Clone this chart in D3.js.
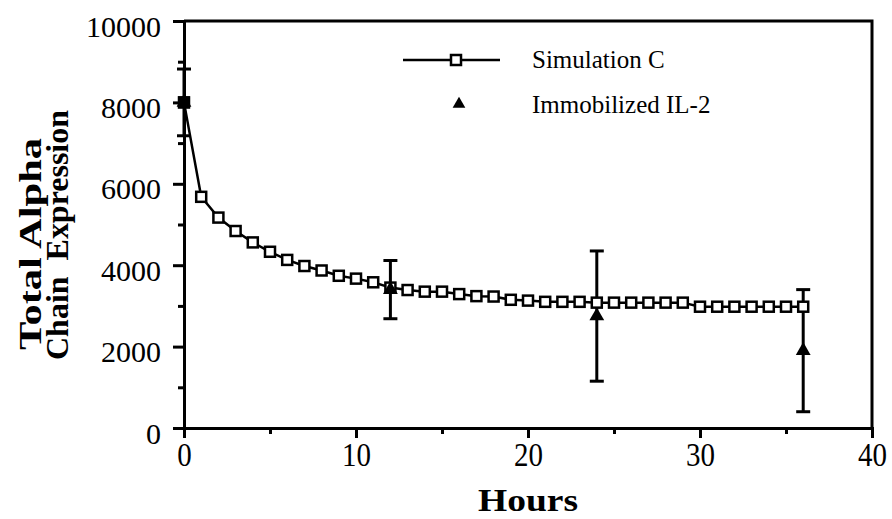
<!DOCTYPE html>
<html>
<head>
<meta charset="utf-8">
<script src="https://cdn.jsdelivr.net/npm/d3@7"></script>
<style>
  html, body { margin: 0; padding: 0; background: #fff; }
  svg { display: block; }
  text { font-family: "Liberation Serif", "Times New Roman", serif; fill: #000; }
</style>
</head>
<body>
<div id="chart"></div>
<script>
// ---- data ----
const simHours = [0,1,2,3,4,5,6,7,8,9,10,11,12,13,14,15,16,17,18,19,20,21,22,23,24,25,26,27,28,29,30,31,32,33,34,35,36];
const simValues = [8000,5680,5170,4840,4560,4330,4130,3980,3870,3740,3670,3580,3450,3390,3350,3350,3290,3240,3230,3150,3130,3100,3100,3100,3080,3080,3080,3080,3080,3080,2980,2980,2980,2980,2980,2980,2980];
const immHours = [0, 12, 24, 36];
const immValues = [8000, 3400, 2750, 1900];
const immErrors = [820, 715, 1600, 1500];
const xTicks = [0, 10, 20, 30, 40];
const xMinorTicks = [5, 15, 25, 35];
const yTicks = [0, 2000, 4000, 6000, 8000, 10000];
const yMinorTicks = [1000, 3000, 5000, 7000, 9000];
const seriesNames = ["Simulation C", "Immobilized IL-2"];
const xTitle = "Hours";
const yTitleLines = ["Total Alpha", "Chain  Expression"];

// ---- layout ----
const W = 892, H = 519;
const m = { left: 184, right: 20, top: 21, bottom: 91 };
const x = d3.scaleLinear().domain([0, 40]).range([m.left, W - m.right]);
const y = d3.scaleLinear().domain([0, 10000]).range([H - m.bottom, m.top]);

const svg = d3.select("#chart").append("svg").attr("width", W).attr("height", H);
const lw = 3;
const serif = '"Liberation Serif", "Times New Roman", serif';

// frame (top + right)
svg.append("path")
  .attr("d", `M${x(0)},${y(10000)}H${x(40)}V${y(0)}`)
  .attr("fill", "none").attr("stroke", "#000").attr("stroke-width", lw);

// y axis
const yAxis = svg.append("g").attr("transform", `translate(${x(0)},0)`)
  .call(d3.axisLeft(y).tickValues(yTicks).tickSize(11).tickPadding(12).tickFormat(d3.format("d")));
yAxis.attr("font-family", null);
yAxis.select(".domain").attr("stroke-width", lw);
yAxis.selectAll(".tick line").attr("stroke-width", lw);
yAxis.selectAll(".tick text").attr("font-size", 30).attr("dy", "0.5em")
  .style("font-family", serif);
const yMinor = svg.append("g").attr("transform", `translate(${x(0)},0)`)
  .call(d3.axisLeft(y).tickValues(yMinorTicks).tickSize(6).tickFormat(""));
yMinor.select(".domain").remove();
yMinor.selectAll(".tick line").attr("stroke-width", lw);

// x axis
const xAxis = svg.append("g").attr("transform", `translate(0,${y(0)})`)
  .call(d3.axisBottom(x).tickValues(xTicks).tickSize(10).tickPadding(0).tickFormat(d3.format("d")));
xAxis.attr("font-family", null);
xAxis.select(".domain").attr("stroke-width", lw);
xAxis.selectAll(".tick text").attr("font-size", 29).attr("dy", 0).attr("y", 0)
  .attr("transform", "translate(0,38) scale(1,1.15)")
  .style("font-family", serif);
xAxis.selectAll(".tick line").attr("stroke-width", lw);
const xMinor = svg.append("g").attr("transform", `translate(0,${y(0)})`)
  .call(d3.axisBottom(x).tickValues(xMinorTicks).tickSize(6).tickFormat(""));
xMinor.select(".domain").remove();
xMinor.selectAll(".tick line").attr("stroke-width", lw);

// axis titles
svg.append("text")
  .attr("x", (x(0) + x(40)) / 2).attr("y", 511)
  .attr("text-anchor", "middle").attr("font-size", 32).attr("font-weight", "bold")
  .attr("textLength", 100).attr("lengthAdjust", "spacingAndGlyphs")
  .text(xTitle);
const yTitleX = [41, 68];
const yTitleCy = [244, 235];
const yTitleLen = [212, 250];
yTitleLines.forEach((t, i) => {
  svg.append("text")
    .attr("transform", `translate(${yTitleX[i]},${yTitleCy[i]}) rotate(-90)`)
    .attr("text-anchor", "middle").attr("font-size", 31).attr("font-weight", "bold")
    .attr("textLength", yTitleLen[i]).attr("lengthAdjust", "spacingAndGlyphs")
    .style("white-space", "pre")
    .text(t);
});

// simulation line
const sim = simHours.map((h, i) => ({ h, v: simValues[i] }));
svg.append("path").datum(sim)
  .attr("d", d3.line().x(d => x(d.h)).y(d => y(d.v)))
  .attr("fill", "none").attr("stroke", "#000").attr("stroke-width", 2.5);

// error bars
const imm = immHours.map((h, i) => ({ h, v: immValues[i], e: immErrors[i] }));
const eb = svg.append("g");
imm.forEach(d => {
  eb.append("line").attr("x1", x(d.h)).attr("x2", x(d.h))
    .attr("y1", y(d.v - d.e)).attr("y2", y(d.v + d.e))
    .attr("stroke", "#000").attr("stroke-width", 3);
  [d.v - d.e, d.v + d.e].forEach(v => {
    eb.append("line").attr("x1", x(d.h) - 7).attr("x2", x(d.h) + 7)
      .attr("y1", y(v)).attr("y2", y(v))
      .attr("stroke", "#000").attr("stroke-width", 3);
  });
});

// squares
const sq = 10;
svg.append("g").selectAll("rect").data(sim).join("rect")
  .attr("x", d => x(d.h) - sq / 2).attr("y", d => y(d.v) - sq / 2)
  .attr("width", sq).attr("height", sq)
  .attr("fill", "#fff").attr("stroke", "#000").attr("stroke-width", 2.5);

// triangles
const tri = d3.symbol().type(d3.symbolTriangle).size(95);
svg.append("g").selectAll("path").data(imm).join("path")
  .attr("d", tri)
  .attr("transform", d => `translate(${x(d.h)},${y(d.v)})`)
  .attr("fill", "#000");
// filled square at t=0 (overlapping markers)
svg.append("rect")
  .attr("x", x(0) - 6).attr("y", y(immValues[0]) - 6).attr("width", 12).attr("height", 12)
  .attr("fill", "#000");

// legend
const lg = svg.append("g");
lg.append("line").attr("x1", 403).attr("x2", 500).attr("y1", 60).attr("y2", 60)
  .attr("stroke", "#000").attr("stroke-width", 2.5);
lg.append("rect").attr("x", 456 - 5).attr("y", 60 - 5).attr("width", 10).attr("height", 10)
  .attr("fill", "#fff").attr("stroke", "#000").attr("stroke-width", 2.5);
lg.append("path").attr("d", d3.symbol().type(d3.symbolTriangle).size(70))
  .attr("transform", "translate(459,104)").attr("fill", "#000");
lg.append("text").attr("x", 532).attr("y", 68).attr("font-size", 25).text(seriesNames[0]);
lg.append("text").attr("x", 532).attr("y", 113).attr("font-size", 25).text(seriesNames[1]);
</script>
</body>
</html>
